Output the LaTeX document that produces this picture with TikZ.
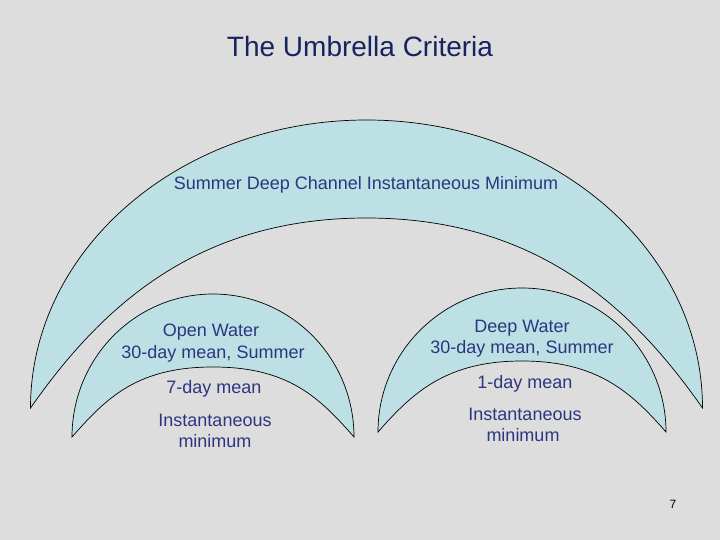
\documentclass[tikz,border=0pt]{standalone}
\usepackage{fontspec}
\setmainfont{Liberation Sans}
\definecolor{bg}{RGB}{221,221,221}
\definecolor{umb}{RGB}{188,224,228}
\definecolor{ttl}{RGB}{22,36,96}
\definecolor{txt}{RGB}{44,54,128}
\begin{document}
\begin{tikzpicture}[x=1pt,y=-1pt,
  band/.style={fill=umb,draw=black,line width=0.7pt},
  lbl/.style={text=txt,font=\fontsize{18}{21.6}\selectfont,anchor=base,inner sep=0pt}]
\useasboundingbox[fill=bg] (0,0) rectangle (720,540);

% big umbrella crescent
\draw[band] (30.5,408) arc[start angle=180,end angle=360,x radius=336,y radius=288]
  .. controls (632.5,308) and (537,218) .. (366.5,218)
  .. controls (196,218) and (100.5,308) .. (30.5,408) -- cycle;

% left arch
\draw[band] (72,437) arc[start angle=180,end angle=360,x radius=141,y radius=143]
  .. controls (319,397) and (288,367) .. (213,367)
  .. controls (138,367) and (107,397) .. (72,437) -- cycle;

% right arch
\draw[band] (378,432) arc[start angle=180,end angle=360,x radius=144,y radius=144]
  .. controls (631,392) and (597,361) .. (522,361)
  .. controls (447,361) and (413,392) .. (378,432) -- cycle;

\node[anchor=base,inner sep=0pt,text=ttl,font=\fontsize{28}{33}\selectfont] (title) at (360,57) {The Umbrella Criteria};

\node[lbl] (top) at (366,190) {Summer Deep Channel Instantaneous Minimum};

\node[lbl] (ow1) at (211,336) {Open Water};
\node[lbl] (ow2) at (213,358) {30-day mean, Summer};
\node[lbl] (ow3) at (214,393) {7-day mean};
\node[lbl] (ow4) at (215,426) {Instantaneous};
\node[lbl] (ow5) at (215,447) {minimum};

\node[lbl] (dw1) at (522,332) {Deep Water};
\node[lbl] (dw2) at (522,353) {30-day mean, Summer};
\node[lbl] (dw3) at (525,388) {1-day mean};
\node[lbl] (dw4) at (525,420) {Instantaneous};
\node[lbl] (dw5) at (523,441) {minimum};

\node[anchor=base,inner sep=0pt,font=\fontsize{12}{14}\selectfont] (pg) at (673,508) {7};
\end{tikzpicture}
\end{document}
